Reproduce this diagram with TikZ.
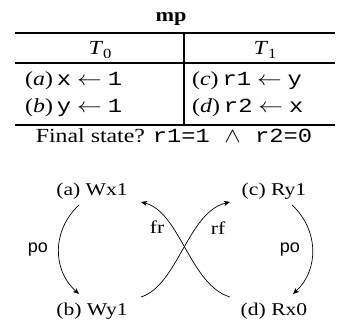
\documentclass[tikz,border=0pt]{standalone}
\usepackage{graphicx}
\usepackage{fontspec}
\setmainfont{Liberation Serif}
\setmonofont{Liberation Mono}
\setsansfont{Liberation Sans}
\usetikzlibrary{arrows.meta}
\newcommand\Tsub[1]{\textit{T}\raisebox{-0.35ex}{\fontsize{14}{14}\selectfont #1}}
\newcommand\wide[1]{\scalebox{1.19}[1]{#1}}
\newcommand\gwide[1]{\scalebox{1.2}[1]{#1}}
\begin{document}
\begin{tikzpicture}[x=1pt,y=1pt,
  lbl/.style={inner sep=0pt, anchor=base, font=\fontsize{18}{20}\selectfont},
  tlbl/.style={inner sep=0pt, anchor=base, font=\fontsize{20}{22}\selectfont},
  cell/.style={inner sep=0pt, anchor=base west, font=\fontsize{20}{22}\selectfont},
  edgelbl/.style={inner sep=0pt, font=\fontsize{18}{20}\selectfont},
  polbl/.style={inner sep=0pt, font=\sffamily\fontsize{18}{20}\selectfont},
  rulel/.style={line width=1.3pt},
  arr/.style={-{Stealth[length=6pt,width=5pt,inset=1.5pt]}, line width=0.7pt}
]
\useasboundingbox (0,0) rectangle (338,320);
% table
\node[tlbl, font=\bfseries\fontsize{19}{22}\selectfont] (title) at (171,298) {\scalebox{1.17}[1]{mp}};
\draw[rulel] (15,287) -- (335,287);
\draw[rulel] (15,257) -- (335,257);
\draw[rulel] (15,195) -- (335,195);
\draw[rulel] (184,287) -- (184,195);
\node[tlbl] (t0) at (100,265) {\wide{\Tsub{0}}};
\node[tlbl] (t1) at (265,265) {\wide{\Tsub{1}}};
\node[cell] (ia) at (25,234) {\wide{(\textit{a})\,\texttt{x} $\leftarrow$ \texttt{1}}};
\node[cell] (ib) at (25,207) {\wide{(\textit{b})\,\texttt{y} $\leftarrow$ \texttt{1}}};
\node[cell] (ic) at (192,234) {\wide{(\textit{c})\,\texttt{r1} $\leftarrow$ \texttt{y}}};
\node[cell] (id) at (192,207) {\wide{(\textit{d})\,\texttt{r2} $\leftarrow$ \texttt{x}}};
\node[tlbl] (fs) at (174,177) {\wide{Final state? \texttt{r1=1 }$\wedge$\texttt{ r2=0}}};
% graph
\node[lbl] (a) at (92,124) {\gwide{(a) Wx1}};
\node[lbl] (c) at (274,124) {\gwide{(c) Ry1}};
\node[lbl] (b) at (92,4) {\gwide{(b) Wy1}};
\node[lbl] (d) at (274,4) {\gwide{(d) Rx0}};
\draw[arr] ([shift={(-13,-9)}]a.base) .. controls +(-27,-25) and +(-27,24) .. ([shift={(-13,22)}]b.base);
\draw[arr] ([shift={(18,-9)}]c.base) .. controls +(27,-25) and +(26,24) .. ([shift={(19,22)}]d.base);
\draw[arr] ([shift={(-44,19)}]d.base) .. controls +(-40,12) and +(39,-10) .. ([shift={(49,-6)}]a.base);
\draw[arr] ([shift={(49,19)}]b.base) .. controls +(37,12) and +(-42,-10) .. ([shift={(-44,-6)}]c.base);
\node[edgelbl] (fr) at (157,93) {\gwide{fr}};
\node[edgelbl] (rf) at (218,92) {\gwide{rf}};
\node[polbl] (po1) at (38,70) {po};
\node[polbl] (po2) at (290,70) {po};
\end{tikzpicture}
\end{document}
